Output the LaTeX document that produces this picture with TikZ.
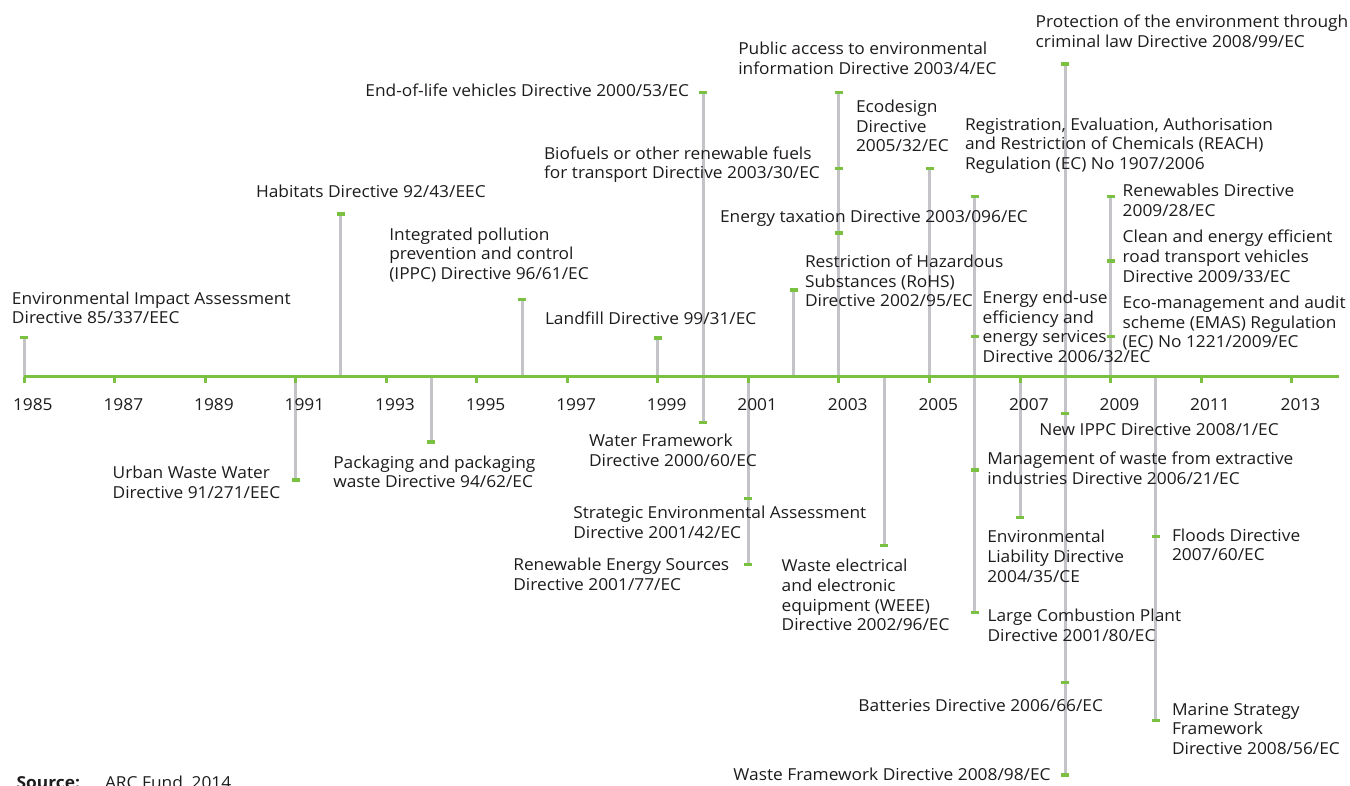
\documentclass[tikz,border=0pt]{standalone}
\usepackage{fontspec}
\setmainfont{Open Sans}[FakeStretch=1.05]
\definecolor{tlgreen}{RGB}{122,193,66}
\definecolor{tlgray}{RGB}{196,196,200}
\definecolor{txt}{RGB}{30,27,28}
\newcommand\yx[1]{24+(#1-1985)*45.275}
\newcommand\lbl[5]{\node[lab,anchor=#2] (#1) at (#3,#4) {\strut #5};}
\newcommand\mk[3]{\coordinate (#1) at ({\yx{#2}},#3);}
\begin{document}
\begin{tikzpicture}[x=1pt,y=-1pt,
  lab/.style={inner sep=0pt, outer sep=0pt, align=left, text=txt,
    font=\fontsize{16.5}{19.7}\selectfont, yshift=13.79pt},
  yearlbl/.style={inner sep=0pt, outer sep=0pt, anchor=base west, text=txt,
    font=\fontsize{16.5}{19.7}\selectfont},
  stem/.style={draw=tlgray, line width=3pt},
  axisline/.style={draw=tlgreen, line width=3pt},
  tickline/.style={draw=tlgreen, line width=3pt},
  marker/.style={fill=tlgreen, draw=none, minimum width=8pt, minimum height=3.5pt, inner sep=0pt, outer sep=0pt}
]
\useasboundingbox (0,0) rectangle (1350,785);
\clip (0,0) rectangle (1350,785);

% axis anchor points
\foreach \yr in {1985,1991,1992,1994,1996,1999,2000,2001,2002,2003,2004,2005,2006,2007,2008,2009,2010}{
  \coordinate (a\yr) at ({\yx{\yr}},376.5);
}
% marker positions
\mk{m85}{1985}{337.5}
\mk{m91}{1991}{480}
\mk{m92}{1992}{214}
\mk{m94}{1994}{442}
\mk{m96}{1996}{299.5}
\mk{m99}{1999}{338}
\mk{m00a}{2000}{92.7}
\mk{m00b}{2000}{422.7}
\mk{m01a}{2001}{498.7}
\mk{m01b}{2001}{564.7}
\mk{m02}{2002}{290}
\mk{m03a}{2003}{92.7}
\mk{m03b}{2003}{168.3}
\mk{m03c}{2003}{233}
\mk{m04}{2004}{545.7}
\mk{m05}{2005}{168.3}
\mk{m06a}{2006}{196.7}
\mk{m06b}{2006}{336.7}
\mk{m06c}{2006}{470}
\mk{m06d}{2006}{612.5}
\mk{m07}{2007}{517.7}
\mk{m08a}{2008}{64}
\mk{m08b}{2008}{413.3}
\mk{m08c}{2008}{682.7}
\mk{m08d}{2008}{775}
\mk{m09a}{2009}{196.7}
\mk{m09b}{2009}{261}
\mk{m09c}{2009}{336.7}
\mk{m10a}{2010}{536.7}
\mk{m10b}{2010}{720.7}

% stems
\draw[stem] (a1985) -- (m85);
\draw[stem] (a1991) -- (m91);
\draw[stem] (a1992) -- (m92);
\draw[stem] (a1994) -- (m94);
\draw[stem] (a1996) -- (m96);
\draw[stem] (a1999) -- (m99);
\draw[stem] (m00a) -- (m00b);
\draw[stem] (a2001) -- (m01b);
\draw[stem] (a2002) -- (m02);
\draw[stem] (a2003) -- (m03a);
\draw[stem] (a2004) -- (m04);
\draw[stem] (a2005) -- (m05);
\draw[stem] (m06a) -- (m06d);
\draw[stem] (a2007) -- (m07);
\draw[stem] (m08a) -- (m08d);
\draw[stem] (a2009) -- (m09a);
\draw[stem] (a2010) -- (m10b);

% axis
\coordinate (axL) at (24,376.5);
\coordinate (axR) at (1338.5,376.5);
\draw[axisline] (axL) -- (axR);

% ticks and year labels
\foreach \yr in {1985,1987,...,2013}{
  \coordinate (t\yr) at ({\yx{\yr}},376.5);
  \coordinate (tb\yr) at ({\yx{\yr}},383);
  \draw[tickline] (t\yr) -- (tb\yr);
  \node[yearlbl] (yl\yr) at ({\yx{\yr}-11},410) {\yr};
}

% markers
\foreach \m in {m85,m91,m92,m94,m96,m99,m00a,m00b,m01a,m01b,m02,m03a,m03b,m03c,m04,m05,m06a,m06b,m06c,m06d,m07,m08a,m08b,m08c,m08d,m09a,m09b,m09c,m10a,m10b}{
  \node[marker] (k\m) at (\m) {};
}

% labels
\lbl{l85}{north west}{12}{304}{Environmental Impact Assessment\\Directive 85/337/EEC}
\lbl{l91}{north west}{112.7}{478.3}{Urban Waste Water\\Directive 91/271/EEC}
\lbl{l92}{north west}{256}{197.3}{Habitats Directive 92/43/EEC}
\lbl{l94}{north west}{333.3}{468}{Packaging and packaging\\waste Directive 94/62/EC}
\lbl{l96}{north west}{389.3}{240}{Integrated pollution\\prevention and control\\(IPPC) Directive 96/61/EC}
\lbl{l99}{north west}{545}{324.5}{Landfill Directive 99/31/EC}
\lbl{l00a}{north east}{689}{96.7}{End-of-life vehicles Directive 2000/53/EC}
\lbl{l00b}{north west}{589}{446.7}{Water Framework\\Directive 2000/60/EC}
\lbl{l01a}{north west}{573.3}{518.7}{Strategic Environmental Assessment\\Directive 2001/42/EC}
\lbl{l01b}{north west}{513.3}{570.7}{Renewable Energy Sources\\Directive 2001/77/EC}
\lbl{l02}{north west}{805}{267.5}{Restriction of Hazardous\\Substances (RoHS)\\Directive 2002/95/EC}
\lbl{l03a}{north west}{738.3}{54.3}{Public access to environmental\\information Directive 2003/4/EC}
\lbl{l03b}{north west}{544}{159}{Biofuels or other renewable fuels\\for transport Directive 2003/30/EC}
\lbl{l03c}{north west}{720}{222.7}{Energy taxation Directive 2003/096/EC}
\lbl{l04}{north west}{781.7}{571.7}{Waste electrical\\and electronic\\equipment (WEEE)\\Directive 2002/96/EC}
\lbl{l05}{north west}{856}{112.3}{Ecodesign\\Directive\\2005/32/EC}
\lbl{l06a}{north west}{965}{130}{Registration, Evaluation, Authorisation\\and Restriction of Chemicals (REACH)\\Regulation (EC) No 1907/2006}
\lbl{l06b}{north west}{982.7}{303.3}{Energy end-use\\efficiency and\\energy services\\Directive 2006/32/EC}
\lbl{l06c}{north west}{987.3}{464.3}{Management of waste from extractive\\industries Directive 2006/21/EC}
\lbl{l06d}{north west}{987.6}{621.7}{Large Combustion Plant\\Directive 2001/80/EC}
\lbl{l07}{north west}{987.3}{542.7}{Environmental\\Liability Directive\\2004/35/CE}
\lbl{l08a}{north west}{1035.7}{27.3}{Protection of the environment through\\criminal law Directive 2008/99/EC}
\lbl{l08b}{north west}{1039.3}{435.7}{New IPPC Directive 2008/1/EC}
\lbl{l08c}{north east}{1103}{711}{Batteries Directive 2006/66/EC}
\lbl{l08d}{north east}{1050.6}{780}{Waste Framework Directive 2008/98/EC}
\lbl{l09a}{north west}{1122.7}{196.7}{Renewables Directive\\2009/28/EC}
\lbl{l09b}{north west}{1122.7}{242.7}{Clean and energy efficient\\road transport vehicles\\Directive 2009/33/EC}
\lbl{l09c}{north west}{1122.7}{308.3}{Eco-management and audit\\scheme (EMAS) Regulation\\(EC) No 1221/2009/EC}
\lbl{l10a}{north west}{1172}{541}{Floods Directive\\2007/60/EC}
\lbl{l10b}{north west}{1172}{715}{Marine Strategy\\Framework\\Directive 2008/56/EC}

% source
\node[yearlbl] (src1) at (16.7,788) {\bfseries Source:};
\node[yearlbl] (src2) at (105,788) {ARC Fund, 2014};
\end{tikzpicture}
\end{document}
